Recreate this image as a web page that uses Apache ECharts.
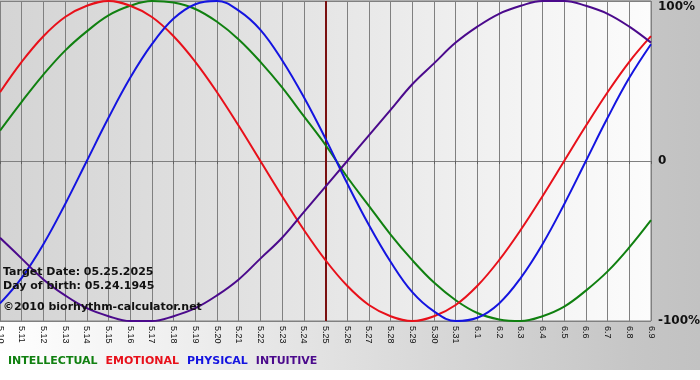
<!DOCTYPE html>
<html>
<head>
<meta charset="utf-8">
<script src="https://cdn.jsdelivr.net/npm/echarts@6/dist/echarts.min.js"></script>
<style>
  html, body { margin: 0; padding: 0; background: #ffffff; }
  #wrap { position: relative; width: 700px; height: 380px; }
  #bg { position: absolute; left: 0; top: 0; width: 700px; height: 370px;
        background: linear-gradient(to right, #ffffff 0%, #c6c6c6 90%, #c2c2c2 100%); }
  #chart { position: absolute; left: 0; top: 0; width: 700px; height: 380px; }
</style>
</head>
<body>
<div id="wrap"><div id="bg"></div><div id="chart"></div></div>
<script>
// Tick labels (days)
const days = ['5.10','5.11','5.12','5.13','5.14','5.15','5.16','5.17','5.18','5.19','5.20','5.21','5.22','5.23','5.24','5.25','5.26','5.27','5.28','5.29','5.30','5.31','6.1','6.2','6.3','6.4','6.5','6.6','6.7','6.8','6.9'];
// Series values (percent)
const intellectual = [19,37,54,69,81,91,97,100,99,95,87,76,62,46,28,10,-10,-28,-46,-62,-76,-87,-95,-99,-100,-97,-91,-81,-69,-54,-37];
const emotional    = [43,62,78,90,97,100,97,90,78,62,43,22,0,-22,-43,-62,-78,-90,-97,-100,-97,-90,-78,-62,-43,-22,0,22,43,62,78];
const physical     = [-89,-73,-52,-27,0,27,52,73,89,98,100,94,82,63,40,14,-14,-40,-63,-82,-94,-100,-98,-89,-73,-52,-27,0,27,52,73];
const intuitive    = [-48,-61,-74,-84,-92,-97,-100,-100,-97,-92,-84,-74,-61,-48,-32,-16,0,16,32,48,61,74,84,92,97,100,100,97,92,84,74];
const seriesNames  = ['INTELLECTUAL','EMOTIONAL','PHYSICAL','INTUITIVE'];
const seriesColors = ['#108010','#e8101a','#1414e0','#4b0a8c'];
const targetDay = '5.25';
const infoLines = ['Target Date: 05.25.2025','Day of birth: 05.24.1945','\u00A92010 biorhythm-calculator.net'];

const chart = echarts.init(document.getElementById('chart'), null, {renderer: 'canvas'});
const allData = [intellectual, emotional, physical, intuitive];

const series = seriesNames.map((n, i) => ({
  name: n,
  type: 'line',
  data: allData[i],
  smooth: 0.4,
  symbol: 'none',
  lineStyle: { color: seriesColors[i], width: 2 },
  itemStyle: { color: seriesColors[i] },
  z: 3
}));
series[0].markLine = {
  silent: true,
  symbol: 'none',
  label: { show: false },
  lineStyle: { color: '#7a1010', width: 2, type: 'solid' },
  data: [{ xAxis: targetDay }],
  z: 2
};

chart.setOption({
  animation: false,
  backgroundColor: 'transparent',
  grid: {
    left: 0, right: 49, top: 1, bottom: 59,
    containLabel: false,
    outerBoundsMode: 'none',
    show: true,
    borderColor: '#808080',
    borderWidth: 1,
    backgroundColor: {
      type: 'linear', x: 0, y: 0, x2: 1, y2: 0,
      colorStops: [
        { offset: 0, color: '#d4d4d4' },
        { offset: 0.5, color: '#e6e6e6' },
        { offset: 1, color: '#fcfcfc' }
      ]
    }
  },
  legend: {
    data: seriesNames.map((n, i) => ({ name: n, textStyle: { color: seriesColors[i] } })),
    left: 3, top: 355, padding: 0,
    icon: 'none',
    itemWidth: 0, itemHeight: 12, itemGap: 3,
    textStyle: { fontFamily: 'DejaVu Sans', fontWeight: 'bold', fontSize: 11 }
  },
  xAxis: {
    type: 'category',
    data: days,
    boundaryGap: false,
    axisLine: { show: true, lineStyle: { color: '#808080' } },
    axisTick: { show: true, length: 3, lineStyle: { color: '#606060' } },
    splitLine: { show: true, lineStyle: { color: '#808080', width: 1 } },
    axisLabel: {
      interval: 0, rotate: -90, margin: 5,
      fontFamily: 'Liberation Sans', fontSize: 9, color: '#111'
    }
  },
  yAxis: {
    type: 'value',
    position: 'right',
    min: -100, max: 100, interval: 100,
    axisLine: { show: false },
    axisTick: { show: false },
    splitLine: { show: true, lineStyle: { color: '#808080', width: 1 } },
    axisLabel: {
      margin: 7,
      fontFamily: 'DejaVu Sans', fontWeight: 'bold', fontSize: 12, color: '#111',
      formatter: v => v === 0 ? '0' : v + '%',
      verticalAlignMaxLabel: 'top'
    }
  },
  graphic: infoLines.map((t, i) => ({
    type: 'text',
    left: 3,
    top: [267, 281, 302][i],
    z: 100,
    style: {
      text: t,
      fill: '#111',
      font: 'bold 11px "DejaVu Sans"'
    }
  })),
  series: series
});
</script>
</body>
</html>
